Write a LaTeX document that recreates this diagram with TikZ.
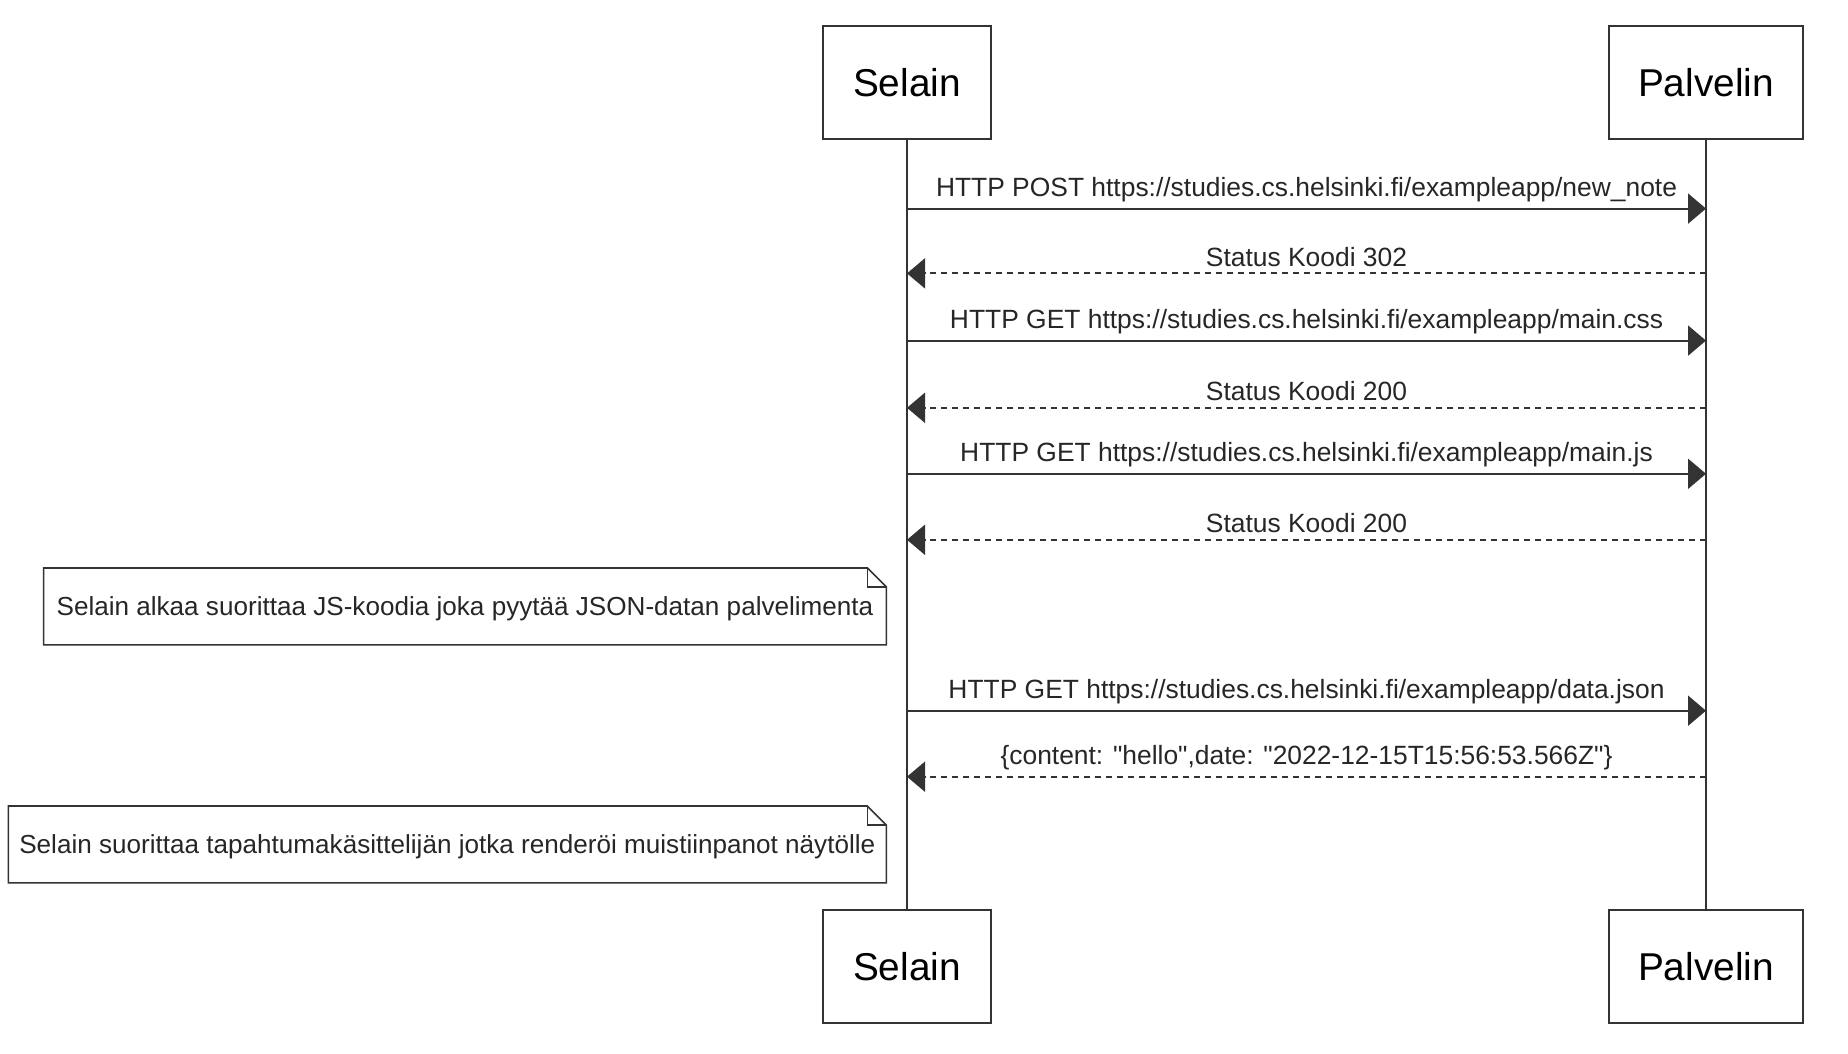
\documentclass[tikz,border=0pt]{standalone}
\usepackage{fontspec}
\setmainfont{Liberation Sans}
\usetikzlibrary{arrows.meta}

\definecolor{ink}{HTML}{333333}

\begin{document}
\begin{tikzpicture}[x=0.5pt,y=-0.5pt,
		actor/.style={draw=ink, line width=1.1pt, fill=white, inner sep=0pt, outer sep=0pt, minimum height=56.5pt, font=\fontsize{19.4}{22}\selectfont},
		lifeline/.style={draw=ink, line width=0.8pt},
		msg/.style={draw=ink, line width=1pt, -{Triangle[length=9pt,width=15pt]}},
		reply/.style={msg, dash pattern=on 3pt off 2.5pt},
		lbl/.style={font=\fontsize{13.2}{15}\selectfont, text=black!85, inner sep=0pt, above=3pt},
		notetext/.style={inner sep=0pt, outer sep=0pt, minimum height=38.4pt, font=\fontsize{13.05}{15}\selectfont, text=black!85},
		notebox/.style={draw=ink, line width=0.8pt}]
				\useasboundingbox (0,0) rectangle (1848,1054);
				
				% lifelines
				\node[actor, minimum width=84pt] (selainTop) at (907,82.5) {Selain};
				\node[actor, minimum width=97pt] (palvelinTop) at (1706,82.5) {Palvelin};
				\node[actor, minimum width=84pt] (selainBot) at (907,966.5) {Selain};
				\node[actor, minimum width=97pt] (palvelinBot) at (1706,966.5) {Palvelin};
				\draw[lifeline] (selainTop) -- (selainBot);
				\draw[lifeline] (palvelinTop) -- (palvelinBot);
				
				% message points
				\foreach \n/\y in {1/208.6, 2/273.4, 3/340.6, 4/407.8, 5/473.8, 6/539.8, 7/710.7, 8/776.7} {
					\coordinate (s\n) at (selainTop |- 0,\y);
					\coordinate (p\n) at (palvelinTop |- 0,\y);
				}
				
				\draw[msg] (s1) -- (p1) node[midway, lbl] {HTTP POST https://studies.cs.helsinki.fi/exampleapp/new\_note};
				\draw[reply] (p2) -- (s2) node[midway, lbl] {Status Koodi 302};
				\draw[msg] (s3) -- (p3) node[midway, lbl] {HTTP GET https://studies.cs.helsinki.fi/exampleapp/main.css};
				\draw[reply] (p4) -- (s4) node[midway, lbl] {Status Koodi 200};
				\draw[msg] (s5) -- (p5) node[midway, lbl] {HTTP GET https://studies.cs.helsinki.fi/exampleapp/main.js};
				\draw[reply] (p6) -- (s6) node[midway, lbl] {Status Koodi 200};
				\draw[msg] (s7) -- (p7) node[midway, lbl] {HTTP GET https://studies.cs.helsinki.fi/exampleapp/data.json};
				\draw[reply] (p8) -- (s8) node[midway, lbl] {\{content: \textquotedbl hello\textquotedbl,date: \textquotedbl 2022-12-15T15:56:53.566Z\textquotedbl\}};
				
				% notes
				\node[notetext, minimum width=421.4pt] (note1) at (465,606.4) {\raisebox{-1.2pt}[\height][\depth]{Selain alkaa suorittaa JS-koodia joka pyytää JSON-datan palvelimenta}};
				\draw[notebox] (note1.south west) -- (note1.north west) -- ([xshift=-9.5pt]note1.north east) -- ([yshift=-9.5pt]note1.north east) -- (note1.south east) -- cycle;
				\draw[notebox] ([xshift=-9.5pt]note1.north east) -- ([xshift=-9.5pt,yshift=-9.5pt]note1.north east) -- ([yshift=-9.5pt]note1.north east);
				
				\node[notetext, minimum width=439pt] (note2) at (447.3,844.4) {\raisebox{-1.2pt}[\height][\depth]{Selain suorittaa tapahtumakäsittelijän jotka renderöi muistiinpanot näytölle}};
				\draw[notebox] (note2.south west) -- (note2.north west) -- ([xshift=-9.5pt]note2.north east) -- ([yshift=-9.5pt]note2.north east) -- (note2.south east) -- cycle;
				\draw[notebox] ([xshift=-9.5pt]note2.north east) -- ([xshift=-9.5pt,yshift=-9.5pt]note2.north east) -- ([yshift=-9.5pt]note2.north east);
			\end{tikzpicture}
\end{document}
